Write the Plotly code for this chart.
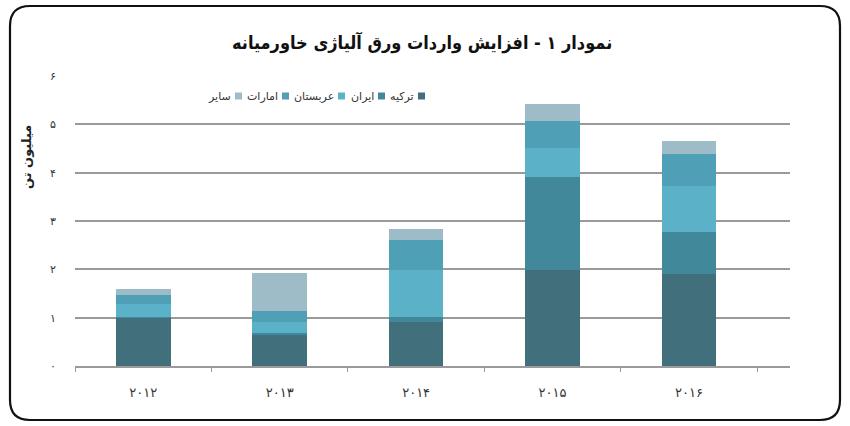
import plotly.graph_objects as go

years = ["۲۰۱۲", "۲۰۱۳", "۲۰۱۴", "۲۰۱۵", "۲۰۱۶"]
series_names = ["ترکیه", "ایران", "عربستان", "امارات", "سایر"]
turkey = [1.00, 0.64, 0.92, 1.98, 1.91]
iran = [0.02, 0.05, 0.10, 1.93, 0.86]
arabia = [0.27, 0.22, 0.96, 0.60, 0.96]
emirates = [0.18, 0.22, 0.62, 0.55, 0.65]
others = [0.13, 0.79, 0.24, 0.37, 0.28]
y_ticks = [0, 1, 2, 3, 4, 5, 6]
y_tick_labels = ["۰", "۱", "۲", "۳", "۴", "۵", "۶"]

title_text = "نمودار ۱ - افزایش واردات ورق آلیاژی خاورمیانه"
y_title = "میلیون تن"

colors = ["#416f7b", "#41889b", "#5bb2c8", "#4f9fb7", "#9dbcc8"]
values = [turkey, iran, arabia, emirates, others]

FONT = "DejaVu Sans"
TITLE_FONT = "DejaVu Sans Condensed, DejaVu Sans"
W, H = 850, 426
ML, MR, MT, MB = 75, 60, 76, 60

fig = go.Figure()
for name, vals, col in zip(series_names, values, colors):
    fig.add_trace(go.Bar(x=years, y=vals, name=name, marker=dict(color=col, line=dict(width=0)),
                         showlegend=False))

pw = W - ML - MR
ph = H - MT - MB
def px2x(px):
    return (px - ML) / pw
def py2y(py):
    return (H - MB - py) / ph

# manual RTL legend (text to the left of its swatch)
legend_items = list(zip(series_names, colors))
sq_left = [418, 378, 338, 282, 235]
legend_y = 96
shapes = []
annotations = []
for (name, col), sx in zip(legend_items, sq_left):
    shapes.append(dict(type="rect", xref="paper", yref="paper",
                       x0=px2x(sx), x1=px2x(sx + 7), y0=py2y(legend_y + 3.5), y1=py2y(legend_y - 3.5),
                       fillcolor=col, line=dict(width=0)))
    annotations.append(dict(text=name, xref="paper", yref="paper", x=px2x(sx - 2), y=py2y(legend_y),
                            xanchor="right", yanchor="middle", showarrow=False,
                            font=dict(family=FONT, size=11, color="#333333")))

# rounded frame, pixel path relative to plot origin
L, R, T, B, r = 10 - ML, 840 - ML, (H - MB) - 6, (H - MB) - 420, 20
path = (f"M {L + r},{B} L {R - r},{B} Q {R},{B} {R},{B + r} L {R},{T - r} Q {R},{T} {R - r},{T} "
        f"L {L + r},{T} Q {L},{T} {L},{T - r} L {L},{B + r} Q {L},{B} {L + r},{B} Z")
shapes.append(dict(type="path", xsizemode="pixel", ysizemode="pixel", xref="paper", yref="paper",
                   xanchor=0, yanchor=0, path=path, line=dict(color="#111111", width=2.2),
                   layer="above"))

annotations.append(dict(text=f"<b>{title_text}</b>", xref="paper", yref="paper",
                        x=px2x(422), y=py2y(42), xanchor="center", yanchor="middle", showarrow=False,
                        font=dict(family=TITLE_FONT, size=18, color="#111111")))
annotations.append(dict(text=f"<b>{y_title}</b>", xref="paper", yref="paper", textangle=-90,
                        x=px2x(26), y=py2y(157), xanchor="center", yanchor="middle", showarrow=False,
                        font=dict(family=FONT, size=13, color="#222222")))

fig.update_layout(
    width=W, height=H,
    margin=dict(l=ML, r=MR, t=MT, b=MB),
    barmode="stack", bargap=0.6,
    plot_bgcolor="white", paper_bgcolor="white",
    font=dict(family=FONT, size=11, color="#333333"),
    shapes=shapes, annotations=annotations,
    xaxis=dict(type="category", range=[-0.5, 4.74], showgrid=False, showline=True,
               linecolor="#9a9a9a", linewidth=1.5, ticks="outside", tickson="boundaries",
               ticklen=4, tickcolor="#9a9a9a", ticklabelstandoff=14,
               tickfont=dict(family=FONT, size=13, color="#333333")),
    yaxis=dict(range=[0, 6], tickvals=y_ticks, ticktext=y_tick_labels, showgrid=True,
               gridcolor="#9a9a9a", gridwidth=1.5, zeroline=False, showline=False,
               ticks="", ticklabelstandoff=18, tickfont=dict(family=FONT, size=11, color="#333333")),
)

fig.write_html("out.html", config={"displayModeBar": False},
               post_script="document.body.style.margin='0';document.body.style.overflow='hidden';")
